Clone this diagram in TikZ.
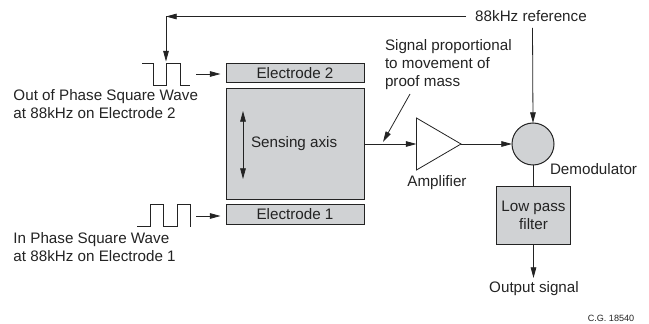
\documentclass[tikz,border=0pt]{standalone}
\usepackage{fontspec}
\setmainfont{Liberation Sans}
\usetikzlibrary{arrows.meta,shapes.geometric}
\definecolor{ink}{RGB}{35,35,35}
\definecolor{fillg}{RGB}{208,210,212}
\tikzset{
  x=0.75pt,y=-0.75pt,
  >={Triangle[length=8pt,width=4.2pt]},
  block/.style={draw=ink,line width=0.75pt,fill=fillg,inner sep=0pt,outer sep=0pt,minimum width=#1,text=ink,font=\fontsize{11.4pt}{13.6pt}\selectfont,align=center},
  lab/.style={inner sep=0pt,outer sep=0pt,text=ink,font=\fontsize{11.4pt}{13.6pt}\selectfont,align=left},
  conn/.style={draw=ink,line width=0.6pt,->},
  plain/.style={draw=ink,line width=0.6pt},
  wave/.style={draw=ink,line width=0.7pt}
}
\begin{document}
\begin{tikzpicture}
\useasboundingbox (0,0) rectangle (649,324);
% blocks
\node[block=103.5pt,minimum height=14.25pt,anchor=north west] (e2) at (226,64) {Electrode 2};
\node[block=103.5pt,minimum height=82.5pt,anchor=north west] (mass) at (226,89) {};
\node[block=103.5pt,minimum height=14.75pt,anchor=north west] (e1) at (226,204.5) {Electrode 1};
\node[lab,anchor=west] (axis) at (251,144) {Sensing axis};
\coordinate (axt) at (243,111);
\coordinate (axb) at (243,179);
\draw[conn,<->] (axt) -- (axb);
% amplifier
\node[draw=ink,line width=0.6pt,fill=white,isosceles triangle,isosceles triangle stretches,minimum height=33.4pt,minimum width=39pt,inner sep=0pt,outer sep=0pt,anchor=apex] (amp) at (461,144) {};
\node[lab,anchor=center] (amplab) at (437,183) {Amplifier};
% demodulator
\node[circle,draw=ink,line width=0.75pt,fill=fillg,minimum size=31.5pt,inner sep=0pt,outer sep=0pt] (dem) at (533,144) {};
\node[lab,anchor=west] (demlab) at (550,169) {Demodulator};
% filter
\node[block=55.5pt,minimum height=44pt,anchor=north] (lpf) at (533.5,186) {Low pass\\filter};
\node[lab,anchor=center] (out) at (534,289) {Output signal};
% reference
\node[lab,anchor=center] (ref) at (531,16) {88kHz reference};
\node[lab,anchor=west] (sig) at (385,64.5) {Signal proportional\\to movement of\\proof mass};
% waves
\coordinate (w2s) at (142,63.5);
\draw[wave] (w2s) -- (153,63.5) -- (153,85.5) -- (166,85.5) -- (166,63.5) -- (180,63.5) -- (180,85.5) -- (190,85.5);
\coordinate (w1s) at (137,226.5);
\draw[wave] (w1s) -- (150,226.5) -- (150,204.5) -- (163,204.5) -- (163,226.5) -- (177,226.5) -- (177,204.5) -- (190,204.5) -- (190,226.5);
\node[lab,anchor=north west] (t2) at (13.5,89.5) {Out of Phase Square Wave\\at 88kHz on Electrode 2};
\node[lab,anchor=north west] (t1) at (13.5,232.5) {In Phase Square Wave\\at 88kHz on Electrode 1};
\node[anchor=center,inner sep=0pt,text=ink,font=\fontsize{6.8pt}{8pt}\selectfont] (cg) at (611,318) {C.G. 18540};
% connectors
\coordinate (corner) at (166,16.5);
\coordinate (wavetop) at (166,61.5);
\coordinate (refl) at (466,16.5);
\draw[conn] (refl) -- (corner);
\draw[conn] (corner) -- (wavetop);
\coordinate (w2a) at (196,74);
\coordinate (w1a) at (196,216);
\coordinate (w2b) at (220.5,74);
\coordinate (w1b) at (220.5,216);
\draw[conn] (w2a) -- (w2b);
\draw[conn] (w1a) -- (w1b);
\coordinate (refdown) at (532.5,28);
\draw[conn] (refdown) -- (dem.north);
\coordinate (mout) at (364,144);
\draw[conn] (mout) -- (amp.lower side);
\draw[conn] (amp.apex) -- (dem.west);
\draw[plain] (dem.south) -- (lpf.north -| dem.south);
\coordinate (outend) at (533.5,278);
\draw[conn] (lpf.south) -- (outend);
\coordinate (sigs) at (410,94);
\coordinate (sige) at (383,142);
\draw[conn] (sigs) -- (sige);
\end{tikzpicture}
\end{document}
